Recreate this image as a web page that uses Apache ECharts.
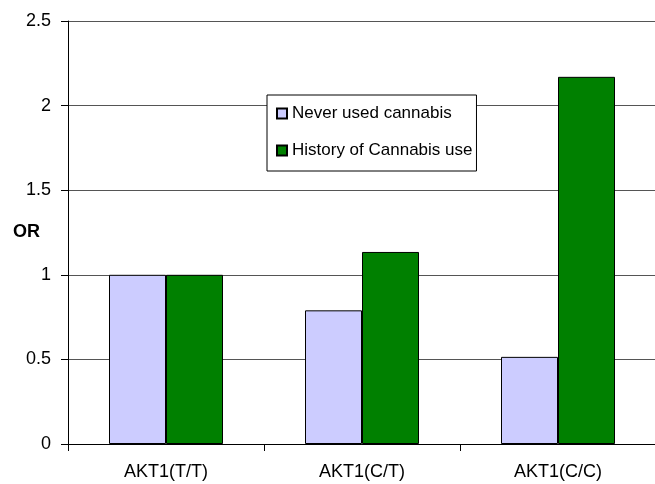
<!DOCTYPE html>
<html>
<head>
<meta charset="utf-8">
<script src="https://cdn.jsdelivr.net/npm/echarts@6/dist/echarts.min.js"></script>
<style>html,body{margin:0;padding:0;background:#fff}#c{width:655px;height:484px}</style>
</head>
<body>
<div id="c"></div>
<script>
const categories = ['AKT1(T/T)', 'AKT1(C/T)', 'AKT1(C/C)'];
const neverUsed = [1.0, 0.79, 0.515];
const historyUse = [1.0, 1.135, 2.17];
const yTicks = [0, 0.5, 1, 1.5, 2, 2.5];

const chart = echarts.init(document.getElementById('c'));
const font = 'Liberation Sans, Arial, sans-serif';
chart.setOption({
  animation: false,
  backgroundColor: '#fff',
  grid: { left: 68, right: -1, top: 21, bottom: 40, containLabel: false, outerBoundsMode: 'none' },
  legend: {
    orient: 'vertical',
    left: 267, top: 95,
    padding: [10, 4, 12, 9],
    itemGap: 20,
    itemWidth: 10, itemHeight: 10,
    backgroundColor: '#fff',
    borderColor: '#000', borderWidth: 1,
    textStyle: { fontFamily: font, fontSize: 17, color: '#000' },
    data: [
      { name: 'Never used cannabis', icon: 'rect' },
      { name: 'History of Cannabis use', icon: 'rect' }
    ]
  },
  xAxis: {
    type: 'category',
    data: categories,
    axisLine: { lineStyle: { color: '#000', width: 1 } },
    axisTick: { show: true, length: 7, inside: false, lineStyle: { color: '#000' } },
    axisLabel: { fontFamily: font, fontSize: 18, color: '#000', margin: 19 }
  },
  yAxis: {
    type: 'value',
    min: yTicks[0], max: yTicks[yTicks.length - 1], interval: 0.5,
    name: 'OR',
    nameLocation: 'middle',
    nameRotate: 0,
    nameGap: 28,
    nameMoveOverlap: false,
    nameTextStyle: { fontFamily: font, fontSize: 18, fontWeight: 'bold', color: '#000' },
    axisLine: { show: true, lineStyle: { color: '#000', width: 1 } },
    axisTick: { show: true, length: 7, lineStyle: { color: '#000' } },
    axisLabel: { fontFamily: font, fontSize: 18, color: '#000', margin: 17 },
    splitLine: { show: true, lineStyle: { color: '#555', width: 1 } }
  },
  series: [
    {
      name: 'Never used cannabis', type: 'bar', data: neverUsed,
      barWidth: 57, barGap: '0%',
      itemStyle: { color: '#CCCCFF', borderColor: '#000', borderWidth: 1 }
    },
    {
      name: 'History of Cannabis use', type: 'bar', data: historyUse,
      barWidth: 57, barGap: '0%',
      itemStyle: { color: '#008000', borderColor: '#000', borderWidth: 1 }
    }
  ]
});
</script>
</body>
</html>
